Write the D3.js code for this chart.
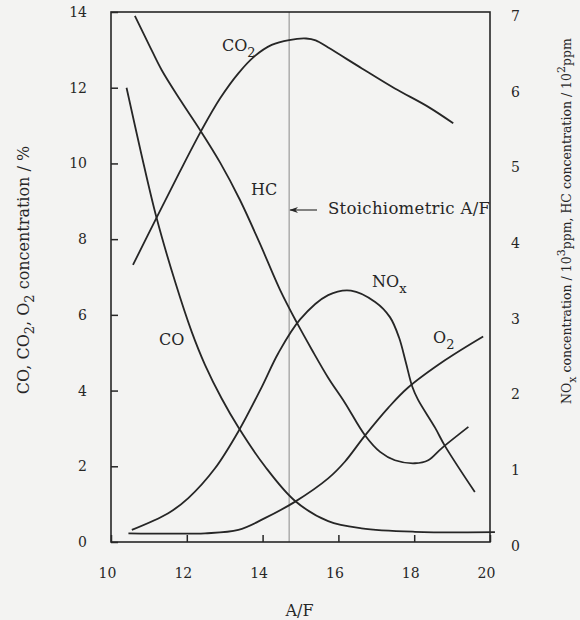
<!DOCTYPE html>
<html>
<head>
<meta charset="utf-8">
<script src="https://cdn.jsdelivr.net/npm/d3@7"></script>
<style>
  body { margin: 0; background: #f3f3f2; }
  svg { display: block; font-family: "DejaVu Serif", serif; }
</style>
</head>
<body>
<svg width="580" height="620"></svg>
<script>
// ticks
const afTicks = [10, 12, 14, 16, 18, 20];
const leftTicks = [0, 2, 4, 6, 8, 10, 12, 14];
const rightTicks = [0, 1, 2, 3, 4, 5, 6, 7];
const stoichAF = 14.7;

// left axis (%) : [A/F, value]
const coData = [[10.41, 12.0], [10.8, 10.25], [11.2, 8.57], [11.69, 6.88], [12.13, 5.55], [12.48, 4.68],
  [12.92, 3.79], [13.36, 3.03], [14.06, 2.0], [14.85, 1.09], [15.73, 0.55], [16.61, 0.36],
  [18.02, 0.27], [20.13, 0.26]];
const co2Data = [[10.58, 7.32], [11.2, 8.56], [11.8, 9.75], [12.39, 10.88], [12.88, 11.72], [13.36, 12.38],
  [13.8, 12.84], [14.24, 13.13], [14.7, 13.26], [15.15, 13.3], [15.4, 13.25], [15.73, 13.06],
  [16.62, 12.51], [17.49, 11.98], [18.36, 11.5], [19.03, 11.06]];
const o2Data = [[10.46, 0.23], [11.5, 0.22], [12.48, 0.23], [13.36, 0.32], [14.06, 0.63], [14.85, 1.06],
  [15.73, 1.68], [16.17, 2.12], [16.7, 2.81], [17.32, 3.55], [17.84, 4.08], [18.81, 4.8], [19.82, 5.43]];

// right axis : [A/F, value]
const hcData = [[10.63, 6.95], [11.0, 6.57], [11.34, 6.23], [11.85, 5.82], [12.35, 5.44], [12.88, 5.01],
  [13.4, 4.52], [13.93, 3.94], [14.46, 3.33], [14.9, 2.9], [15.3, 2.54], [15.73, 2.17], [16.17, 1.84],
  [16.7, 1.41], [17.1, 1.19], [17.49, 1.08], [18.02, 1.04], [18.37, 1.08], [18.73, 1.24], [19.43, 1.52]];
const noxData = [[10.55, 0.16], [11.51, 0.38], [12.04, 0.58], [12.74, 0.97], [13.36, 1.46], [13.98, 2.05],
  [14.41, 2.49], [14.99, 2.94], [15.73, 3.26], [16.33, 3.32], [16.97, 3.17], [17.36, 2.97],
  [17.6, 2.7], [17.78, 2.37], [17.95, 2.05], [18.1, 1.88], [18.55, 1.51], [18.81, 1.27], [19.6, 0.66]];

const svg = d3.select("svg");
const ink = "#262626";

const x = d3.scaleLinear().domain([10, 20]).range([111, 490]);
const yL = d3.scaleLinear().domain([0, 14]).range([542, 12]);
const yR = d3.scaleLinear().domain([0, 7]).range([542, 12]);

// stoichiometric line
svg.append("line")
  .attr("x1", x(stoichAF)).attr("x2", x(stoichAF))
  .attr("y1", yL(14)).attr("y2", yL(0))
  .attr("stroke", "#8a8a8a").attr("stroke-width", 1);

// frame
svg.append("rect")
  .attr("x", x(10)).attr("y", yL(14))
  .attr("width", x(20) - x(10)).attr("height", yL(0) - yL(14))
  .attr("fill", "none").attr("stroke", ink).attr("stroke-width", 1.6);

// axes
const gx = svg.append("g")
  .attr("transform", "translate(0," + yL(0) + ")")
  .call(d3.axisBottom(x).tickValues(afTicks).tickSizeInner(-7).tickSizeOuter(0).tickPadding(26));
const gl = svg.append("g")
  .attr("transform", "translate(" + x(10) + ",0)")
  .call(d3.axisLeft(yL).tickValues(leftTicks).tickSizeInner(-7).tickSizeOuter(0).tickPadding(24));
const gr = svg.append("g")
  .attr("transform", "translate(" + x(20) + ",0)")
  .call(d3.axisRight(yR).tickValues(rightTicks).tickFormat(d3.format("d")).tickSize(0).tickPadding(21));

[gx, gl, gr].forEach(g => {
  g.select(".domain").remove();
  g.selectAll("line").attr("stroke", ink).attr("stroke-width", 1.5);
  g.selectAll("text").attr("fill", ink)
    .style("font-family", "DejaVu Serif, serif").style("font-size", "14px");
});
gx.selectAll("text").attr("dx", -4);
gr.selectAll("text").attr("dy", "0.6em");

// curves
const lineL = d3.line().x(d => x(d[0])).y(d => yL(d[1])).curve(d3.curveCatmullRom.alpha(0.5));
const lineR = d3.line().x(d => x(d[0])).y(d => yR(d[1])).curve(d3.curveCatmullRom.alpha(0.5));

[coData, co2Data, o2Data].forEach(d => {
  svg.append("path").datum(d).attr("d", lineL)
    .attr("fill", "none").attr("stroke", ink).attr("stroke-width", 1.8);
});
[hcData, noxData].forEach(d => {
  svg.append("path").datum(d).attr("d", lineR)
    .attr("fill", "none").attr("stroke", ink).attr("stroke-width", 1.8);
});

// curve labels
function label(px, py, main, sub) {
  const t = svg.append("text").attr("x", px).attr("y", py)
    .attr("fill", ink).style("font-size", "16px").text(main);
  if (sub) {
    t.append("tspan").attr("dy", 6).style("font-size", "13px").text(sub);
  }
}
label(222, 51, "CO", "2");
label(251, 195, "HC");
label(159, 345, "CO");
label(372, 287, "NO", "x");
label(433, 343, "O", "2");

// stoichiometric arrow
const defs = svg.append("defs");
defs.append("marker").attr("id", "arr")
  .attr("viewBox", "0 0 10 10").attr("refX", 9).attr("refY", 5)
  .attr("markerWidth", 8).attr("markerHeight", 8).attr("orient", "auto")
  .append("path").attr("d", "M0,1.5 L10,5 L0,8.5 L3,5 Z").attr("fill", ink);
svg.append("line")
  .attr("x1", 317).attr("x2", x(stoichAF) + 1)
  .attr("y1", 210).attr("y2", 210)
  .attr("stroke", ink).attr("stroke-width", 1.1)
  .attr("marker-end", "url(#arr)");
svg.append("text").attr("x", 328).attr("y", 214)
  .attr("fill", ink).style("font-size", "16.5px").style("letter-spacing", "0.3px")
  .text("Stoichiometric A/F");

// axis titles
svg.append("text").attr("x", x(15) - 1).attr("y", 616)
  .attr("text-anchor", "middle").attr("fill", ink).style("font-size", "16px").text("A/F");

const lt = svg.append("text")
  .attr("transform", "translate(29,270) rotate(-90)")
  .attr("text-anchor", "middle").attr("fill", ink).style("font-size", "16px");
lt.append("tspan").text("CO, CO");
lt.append("tspan").attr("dy", 5).style("font-size", "13px").text("2");
lt.append("tspan").attr("dy", -5).text(", O");
lt.append("tspan").attr("dy", 5).style("font-size", "13px").text("2");
lt.append("tspan").attr("dy", -5).text(" concentration / %");

const rt = svg.append("text")
  .attr("transform", "translate(571,221) rotate(-90)")
  .attr("text-anchor", "middle").attr("fill", ink).style("font-size", "12.5px");
rt.append("tspan").text("NO");
rt.append("tspan").attr("dy", 5).style("font-size", "11px").text("x");
rt.append("tspan").attr("dy", -5).text(" concentration / 10");
rt.append("tspan").attr("dy", -6).style("font-size", "11px").text("3");
rt.append("tspan").attr("dy", 6).text("ppm, HC concentration / 10");
rt.append("tspan").attr("dy", -6).style("font-size", "11px").text("2");
rt.append("tspan").attr("dy", 6).text("ppm");
</script>
</body>
</html>
